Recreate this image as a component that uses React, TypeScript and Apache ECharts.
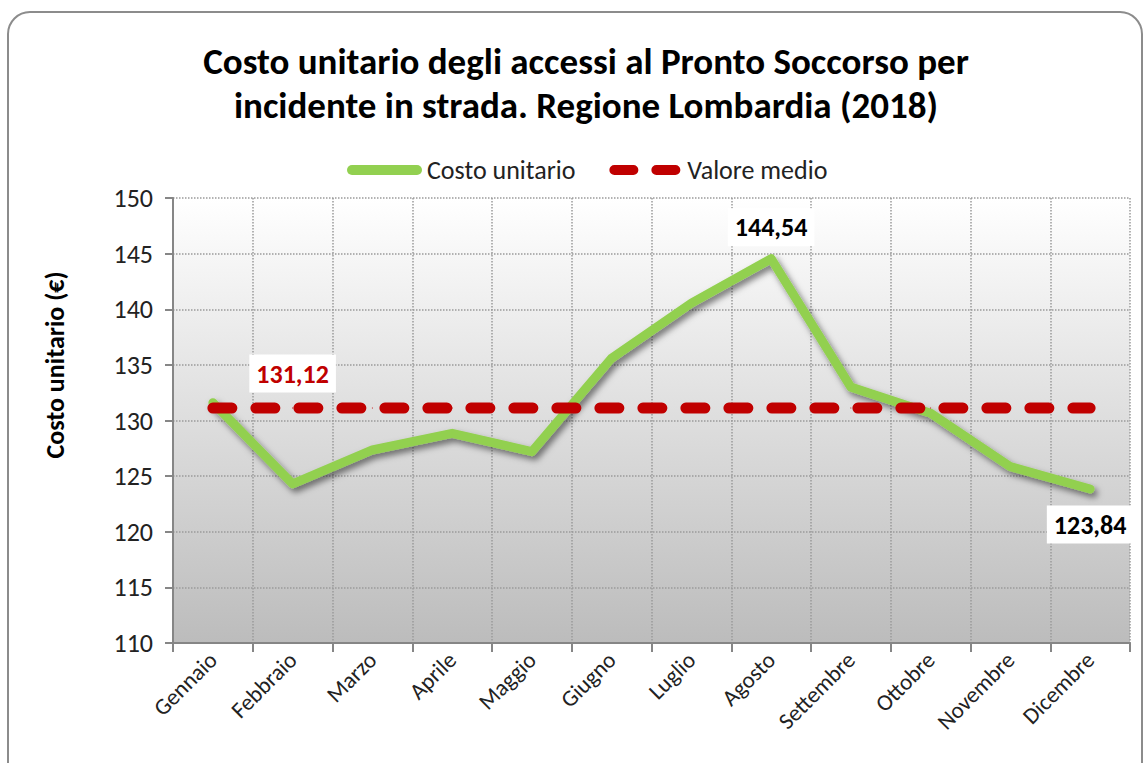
import React, { useEffect, useRef } from "react";
import * as echarts from "echarts";

const months = ["Gennaio", "Febbraio", "Marzo", "Aprile", "Maggio", "Giugno", "Luglio", "Agosto", "Settembre", "Ottobre", "Novembre", "Dicembre"];
const costoUnitario = [131.6, 124.3, 127.35, 128.85, 127.2, 135.6, 140.55, 144.54, 133.0, 130.65, 125.85, 123.84];
const valoreMedio = 131.12;
const costoLabelIdx = [7, 11];
const costoLabelPos = ["top", "bottom"];
const medioLabelIdx = 1;
const yMin = 110;
const yMax = 150;
const yInterval = 5;

const FONT = "Carlito, Calibri, Lato, 'Open Sans', sans-serif";
const fmt = (v: number) => v.toFixed(2).replace(".", ",");

const GREEN_ICON = "path://M5,0 H70 A5,5 0 0 1 70,10 H5 A5,5 0 0 1 5,0 Z";
const RED_ICON =
  "path://M5,0 H24 A5,5 0 0 1 24,10 H5 A5,5 0 0 1 5,0 Z M47,0 H66 A5,5 0 0 1 66,10 H47 A5,5 0 0 1 47,0 Z";

export default function App() {
  const ref = useRef<HTMLDivElement>(null);
  useEffect(() => {
    document.body.style.margin = "0";
    const chart = echarts.init(ref.current!, null, { renderer: "svg" });
    const labelBase = {
      show: true,
      formatter: (p: any) => fmt(p.value),
      fontWeight: "bold",
      fontSize: 26,
      fontFamily: FONT,
      backgroundColor: "#fff",
      padding: [6, 7, 6, 7],
    };
    const costoData = costoUnitario.map((v, i) => {
      const k = costoLabelIdx.indexOf(i);
      if (k < 0) return v;
      return {
        value: v,
        label: {
          ...labelBase,
          position: costoLabelPos[k],
          distance: k === 0 ? 12 : 16,
          color: "#000",
        },
      };
    });
    const medioData = months.map((_, i) =>
      i === medioLabelIdx
        ? {
            value: valoreMedio,
            label: { ...labelBase, position: "top", distance: 15, color: "#C00000" },
          }
        : valoreMedio
    );
    chart.setOption({
      animation: false,
      backgroundColor: "#fff",
      title: {
        text: "Costo unitario degli accessi al Pronto Soccorso per\nincidente in strada. Regione Lombardia (2018)",
        left: 581,
        textAlign: "center",
        top: 34,
        textStyle: { fontFamily: FONT, fontSize: 37, fontWeight: "bold", color: "#000", lineHeight: 44 },
      },
      legend: {
        top: 152,
        left: 342,
        itemWidth: 75,
        itemHeight: 10,
        itemGap: 34,
        textStyle: { fontFamily: FONT, fontSize: 26, color: "#222" },
        data: [
          { name: "Costo unitario", icon: GREEN_ICON, itemStyle: { color: "#92D050" } },
          { name: "Valore medio", icon: RED_ICON, itemStyle: { color: "#C00000" } },
        ],
      },
      graphic: [
        {
          type: "rect",
          shape: { x: 8, y: 12, width: 1134, height: 780, r: 22 },
          style: { fill: "none", stroke: "#8c8c8c", lineWidth: 2 },
          z: -10,
          silent: true,
        },
        {
          type: "text",
          x: 55,
          y: 365,
          rotation: Math.PI / 2,
          style: {
            text: "Costo unitario (€)",
            fontFamily: FONT,
            fontSize: 26,
            fontWeight: "bold",
            fill: "#000",
            align: "center",
            verticalAlign: "middle",
          },
        },
      ],
      grid: {
        left: 173,
        right: 16,
        top: 198,
        bottom: 120,
        show: true,
        borderWidth: 0,
        backgroundColor: new echarts.graphic.LinearGradient(0, 0, 0, 1, [
          { offset: 0, color: "#ffffff" },
          { offset: 1, color: "#bcbcbc" },
        ]),
      },
      xAxis: {
        type: "category",
        data: months,
        boundaryGap: true,
        axisLine: { lineStyle: { color: "#868686", width: 2 } },
        axisTick: { show: true, length: 9, lineStyle: { color: "#868686", width: 2 } },
        axisLabel: { rotate: 45, fontFamily: FONT, fontSize: 23, color: "#222", margin: 13, interval: 0 },
        splitLine: { show: true, lineStyle: { type: "dotted", color: "#9a9a9a", width: 1.5 } },
      },
      yAxis: {
        type: "value",
        min: yMin,
        max: yMax,
        interval: yInterval,
        axisLine: { show: true, lineStyle: { color: "#868686", width: 2 } },
        axisTick: { show: true, length: 8, lineStyle: { color: "#868686", width: 2 } },
        axisLabel: { fontFamily: FONT, fontSize: 26, color: "#222", margin: 20 },
        splitLine: { show: true, lineStyle: { type: "dotted", color: "#9a9a9a", width: 1.5 } },
      },
      series: [
        {
          name: "Costo unitario",
          type: "line",
          data: costoData,
          symbol: "circle",
          symbolSize: 1,
          showSymbol: true,
          z: 3,
          itemStyle: { color: "#92D050" },
          lineStyle: {
            color: "#92D050",
            width: 9,
            cap: "round",
            join: "round",
            shadowColor: "rgba(0,0,0,0.5)",
            shadowBlur: 6,
            shadowOffsetX: 3,
            shadowOffsetY: 4,
          },
        },
        {
          name: "Valore medio",
          type: "line",
          data: medioData,
          symbol: "circle",
          symbolSize: 1,
          showSymbol: true,
          z: 4,
          itemStyle: { color: "#C00000" },
          lineStyle: { color: "#C00000", width: 11, type: [19, 24], cap: "round" },
        },
      ],
    });
    return () => chart.dispose();
  }, []);
  return <div ref={ref} style={{ width: 1146, height: 763 }} />;
}
